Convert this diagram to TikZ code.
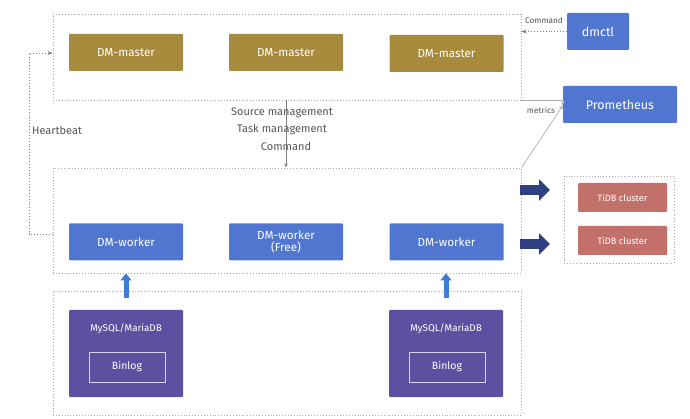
\documentclass[tikz,border=0pt]{standalone}
\usepackage{fontspec}
\setmainfont{Fira Sans}
\usetikzlibrary{arrows.meta}
\definecolor{gold}{HTML}{A78A3C}
\definecolor{wblue}{HTML}{5076CF}
\definecolor{purp}{HTML}{5E50A1}
\definecolor{tred}{HTML}{C2706A}
\definecolor{navy}{HTML}{2F3F80}
\definecolor{abl}{HTML}{3B7DDB}
\definecolor{lgray}{HTML}{A8A8A8}
\definecolor{tgray}{HTML}{555555}
\tikzset{
  box/.style={draw=none, rounded corners=1pt, minimum width=114pt, minimum height=37pt, text=white, font=\fontsize{11.7}{12.5}\selectfont, align=center, inner sep=0pt},
  master/.style={box, fill=gold},
  worker/.style={box, fill=wblue},
  tool/.style={box, fill=wblue, font=\fontsize{12.5}{14}\selectfont},
  db/.style={box, fill=purp, minimum height=87pt},
  binlog/.style={draw=white!75!purp, line width=0.8pt, minimum width=76pt, minimum height=30pt, text=white, font=\fontsize{10.5}{12}\selectfont, inner sep=0pt},
  tidb/.style={box, fill=tred, minimum width=89pt, minimum height=29pt, font=\fontsize{9.2}{10}\selectfont},
  container/.style={draw=lgray, dotted, line width=0.9pt, inner sep=0pt},
  lbl/.style={text=tgray, font=\fontsize{11}{12}\selectfont, inner sep=0pt},
  slbl/.style={text=tgray, font=\fontsize{8.3}{9}\selectfont, inner sep=0pt},
  thin/.style={draw=gray, line width=0.6pt, -{Stealth[length=4pt,width=3.5pt]}},
  dotarrow/.style={draw=gray, dotted, line width=0.9pt, -{Stealth[length=5pt,width=4pt]}},
  fat/.style={draw=navy, line width=9.5pt, -{Triangle[length=11pt,width=21pt]}},
  upar/.style={draw=abl, line width=5pt, -{Triangle[length=7pt,width=11pt]}}
}
\begin{document}
\begin{tikzpicture}[x=1pt,y=-1pt]
\useasboundingbox (0,0) rectangle (690,419);
% containers
\node[container, minimum width=468pt, minimum height=86pt] (mc) at (287,57) {};
\node[container, minimum width=468pt, minimum height=105pt] (wc) at (287,220.5) {};
\node[container, minimum width=468pt, minimum height=124pt] (sc) at (287,353) {};
\node[container, minimum width=110pt, minimum height=87pt] (tc) at (619,219.5) {};
% masters
\node[master] (m1) at (126,52.5) {DM-master};
\node[master] (m2) at (286,52.5) {DM-master};
\node[master] (m3) at (446.5,53.5) {DM-master};
% tools
\node[tool, minimum width=62pt] (dmctl) at (598,31.5) {dmctl};
\node[tool] (prom) at (620,104.5) {Prometheus};
% workers
\node[worker] (w1) at (126,242) {DM-worker};
\node[worker] (w2) at (286,242) {DM-worker\\(Free)};
\node[worker] (w3) at (446.5,242) {DM-worker};
% tidb
\node[tidb] (t1) at (622.5,197.5) {TiDB cluster};
\node[tidb] (t2) at (622.5,240.5) {TiDB cluster};
% sources
\node[db] (s1) at (126,353.5) {};
\node[db] (s2) at (446,353.5) {};
\node[text=white, font=\fontsize{9.8}{11}\selectfont, inner sep=0pt] (s1t) at (126,329) {MySQL/MariaDB};
\node[text=white, font=\fontsize{9.8}{11}\selectfont, inner sep=0pt] (s2t) at (446,329) {MySQL/MariaDB};
\node[binlog] (b1) at (127,367) {Binlog};
\node[binlog] (b2) at (447,367) {Binlog};
% control arrow
\draw[thin] (mc.south -| m2) -- (wc.north -| m2);
\node[lbl] (l1) at (282,113) {Source management};
\node[lbl] (l2) at (282,129.5) {Task management};
\node[lbl] (l3) at (286,146) {Command};
% heartbeat
\coordinate (hb1) at (29,234);
\coordinate (hb2) at (29,53);
\draw[dotarrow] (wc.west |- hb1) -- (hb1) -- (hb2) -- (mc.west |- hb2);
\node[lbl] (hb) at (57,130) {Heartbeat};
% command from dmctl
\draw[dotarrow] (dmctl.west) -- (mc.east |- dmctl.west);
\node[slbl] (cmd) at (544,20) {Command};
% metrics
\coordinate (pm) at (prom.west);
\draw[thin, draw=lgray] (mc.south east) -- (mc.south east -| pm) -- ([yshift=-1pt]pm);
\draw[thin, draw=lgray] (wc.north east) -- ([yshift=-1pt]pm);
\node[slbl] (met) at (541,110) {metrics};
% fat arrows
\draw[fat] (520,190) coordinate (fa1) -- ++(30,0);
\draw[fat] (520,244) coordinate (fa2) -- ++(30,0);
% up arrows
\draw[upar] ([yshift=-7pt]sc.north -| s1) -- (wc.south -| s1);
\draw[upar] ([yshift=-7pt]sc.north -| s2) -- (wc.south -| s2);
\end{tikzpicture}
\end{document}
